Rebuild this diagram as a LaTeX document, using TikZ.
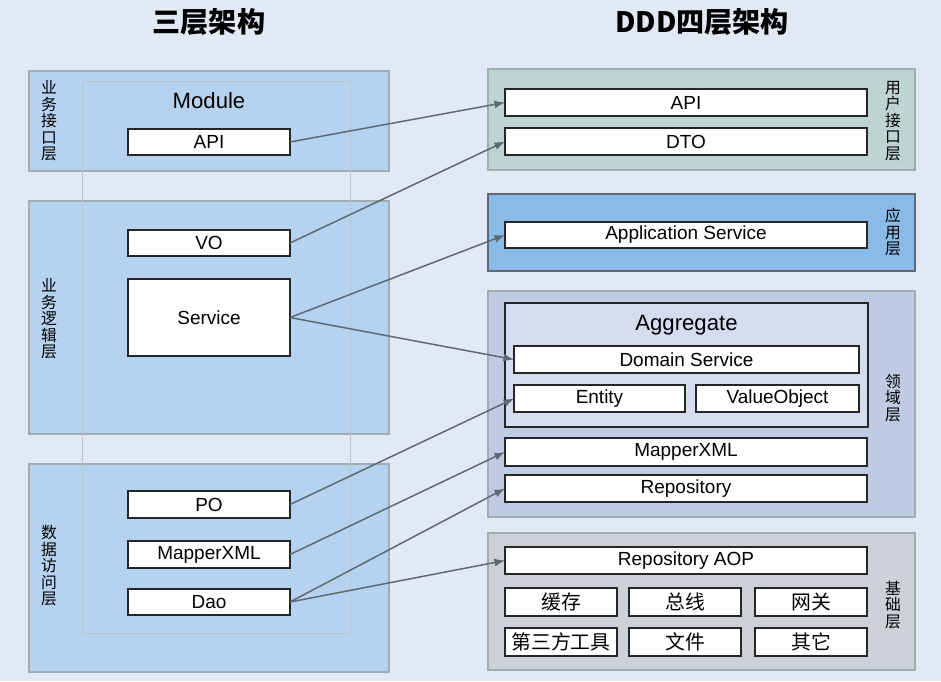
\documentclass[tikz,border=0pt]{standalone}
\usepackage{fontspec}
\setmainfont{Liberation Sans}
\newfontfamily\cjk{Noto Sans CJK SC}
\usetikzlibrary{arrows.meta}

\definecolor{bgcol}{HTML}{E1EAF4}
\definecolor{leftfill}{HTML}{B5D3EF}
\definecolor{uifill}{HTML}{BDD4D2}
\definecolor{appfill}{HTML}{8ABBE8}
\definecolor{domfill}{HTML}{BECBE2}
\definecolor{aggfill}{HTML}{D5DCEF}
\definecolor{basefill}{HTML}{CCD1D8}
\definecolor{layerline}{HTML}{A3ABB3}
\definecolor{frameline}{HTML}{BCC3CA}
\definecolor{arrowcol}{HTML}{5E6973}

\tikzset{
  wh/.style 2 args={minimum width=#1*0.02cm, minimum height=#2*0.02cm},
  layer/.style={draw=layerline, line width=1.1pt, anchor=north west, inner sep=0pt, outer sep=0pt},
  box/.style={draw=black!85, fill=white, line width=0.7pt, inner sep=0pt, outer sep=0pt,
    font=\fontsize{10.8}{12}\selectfont},
  cnbox/.style={box, font=\cjk\fontsize{11.3}{12}\selectfont},
  vlabel/.style={align=center, inner sep=0pt, font=\cjk\fontsize{9}{9.4}\selectfont},
  title/.style={font=\cjk\bfseries\fontsize{16}{19}\selectfont},
  conn/.style={draw=arrowcol, line width=0.85pt, -{Latex[length=6pt,width=4.5pt]}}
}

\begin{document}
\begin{tikzpicture}[x=0.02cm, y=-0.02cm]
  \fill[bgcol] (0,0) rectangle (941,681);
  \useasboundingbox (0,0) rectangle (941,681);

  % titles
  \node[title] (tThree) at (209,22) {三层架构};
  \node[title] (tFour) at (702,22) {DDD四层架构};

  % three-layer side
  \node[layer, fill=leftfill, wh={360}{100}] (ifL) at (29,71) {};
  \node[layer, fill=leftfill, wh={360}{233}] (bizL) at (29,201) {};
  \node[layer, fill=leftfill, wh={360}{208}] (daoL) at (29,464) {};
  \node[vlabel] (ifLtxt) at (49,121) {业\\务\\接\\口\\层};
  \node[vlabel] (bizLtxt) at (49,319) {业\\务\\逻\\辑\\层};
  \node[vlabel] (daoLtxt) at (49,566) {数\\据\\访\\问\\层};

  \node[draw=frameline, line width=0.6pt, anchor=north west, inner sep=0pt, wh={268}{552}] (module) at (82,81) {};
  \node[font=\fontsize{12.6}{14}\selectfont] (moduleTxt) at (209,101) {Module};

  \node[box, wh={162}{26}] (lAPI) at (209,142) {API};
  \node[box, wh={162}{26}] (lVO) at (209,243) {VO};
  \node[box, wh={162}{77}] (lService) at (209,317.5) {Service};
  \node[box, wh={162}{27}] (lPO) at (209,504.5) {PO};
  \node[box, wh={162}{27}] (lMapper) at (209,554.5) {MapperXML};
  \node[box, wh={162}{26}] (lDao) at (209,602) {Dao};

  % DDD side
  \node[layer, fill=uifill, wh={427}{101}] (uiL) at (488,69) {};
  \node[layer, fill=appfill, draw=arrowcol, wh={427}{77}] (appL) at (488,194) {};
  \node[layer, fill=domfill, wh={427}{226}] (domL) at (488,291) {};
  \node[layer, fill=basefill, wh={427}{137}] (baseL) at (488,533) {};
  \node[vlabel] (uiLtxt) at (893,121) {用\\户\\接\\口\\层};
  \node[vlabel] (appLtxt) at (893,232) {应\\用\\层};
  \node[vlabel] (domLtxt) at (893,398) {领\\域\\层};
  \node[vlabel] (baseLtxt) at (893,605) {基\\础\\层};

  \node[box, wh={362}{27}] (rAPI) at (686,102.5) {API};
  \node[box, wh={362}{27}] (rDTO) at (686,141.5) {DTO};
  \node[box, wh={362}{26}] (rApp) at (686,235) {Application Service};

  \node[box, fill=aggfill, wh={363}{124}] (agg) at (686.5,365) {};
  \node[font=\fontsize{12.6}{14}\selectfont] (aggTxt) at (686.5,325) {Aggregate};
  \node[box, wh={345}{27}] (rDomain) at (686.5,359.5) {Domain Service};
  \node[box, wh={171}{27}] (rEntity) at (599.5,398.5) {Entity};
  \node[box, wh={163}{27}] (rValue) at (777.5,398.5) {ValueObject};
  \node[box, wh={362}{28}] (rMapper) at (686,452) {MapperXML};
  \node[box, wh={362}{27}] (rRepo) at (686,488.5) {Repository};

  \node[box, wh={362}{27}] (rAOP) at (686,560.5) {Repository AOP};
  \foreach[count=\i] \t/\x/\y in {缓存/561/602, 总线/685/602, 网关/811/602,
      第三方工具/561/642, 文件/685/642, 其它/811/642} {
    \node[cnbox, wh={112}{28}] (base\i) at (\x,\y) {\t};
  }

  % mappings
  \draw[conn] (lAPI.east) -- (rAPI.west);
  \draw[conn] (lVO.east) -- (rDTO.west);
  \draw[conn] (lService.east) -- (rApp.west);
  \draw[conn] (lService.east) -- (rDomain.west);
  \draw[conn] (lPO.east) -- (rEntity.west);
  \draw[conn] (lMapper.east) -- (rMapper.west);
  \draw[conn] (lDao.east) -- (rRepo.west);
  \draw[conn] (lDao.east) -- (rAOP.west);
\end{tikzpicture}
\end{document}
